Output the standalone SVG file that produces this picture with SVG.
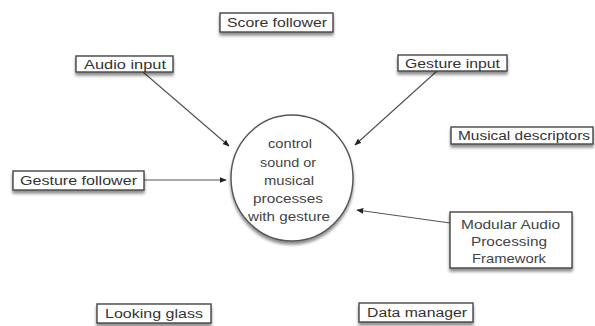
<svg xmlns="http://www.w3.org/2000/svg" width="595" height="326" viewBox="0 0 595 326">
<defs>
<filter id="sh" x="-20%" y="-40%" width="140%" height="190%">
<feGaussianBlur in="SourceAlpha" stdDeviation="1.5"/>
<feOffset dx="0" dy="3" result="b"/>
<feComponentTransfer><feFuncA type="linear" slope="0.45"/></feComponentTransfer>
<feMerge><feMergeNode/><feMergeNode in="SourceGraphic"/></feMerge>
</filter>
<marker id="ah" viewBox="0 0 10 10" refX="9" refY="5" markerWidth="7" markerHeight="7" orient="auto" markerUnits="userSpaceOnUse">
<path d="M0,1 L10,5 L0,9 Z" fill="#222"/>
</marker>
<style>
.box{fill:#fff;stroke:#444;stroke-width:1.4;filter:url(#sh)}
.t{font-family:"Liberation Sans",Arial,sans-serif;font-size:12.5px;fill:#333;text-anchor:middle}
.c{font-family:"Liberation Sans",Arial,sans-serif;font-size:13.5px;fill:#444;text-anchor:middle}
.e{stroke:#555;stroke-width:1.2;fill:none;marker-end:url(#ah)}
</style>
</defs>
<rect width="595" height="326" fill="#fff"/>
<g id="connectors">
<line class="e" x1="143" y1="72" x2="229" y2="146"/>
<line class="e" x1="437" y1="71" x2="355" y2="145"/>
<line class="e" x1="144" y1="180" x2="226" y2="180"/>
<line class="e" x1="450" y1="223" x2="357" y2="210"/>
</g>
<g id="score-follower"><rect class="box" x="220" y="13" width="113" height="19"/><text class="t" x="277" y="27" textLength="100" lengthAdjust="spacingAndGlyphs">Score follower</text></g>
<g id="audio-input"><rect class="box" x="76" y="56" width="97" height="16"/><text class="t" x="125" y="68.5" textLength="82" lengthAdjust="spacingAndGlyphs">Audio input</text></g>
<g id="gesture-input"><rect class="box" x="398" y="55" width="109" height="16"/><text class="t" x="452.5" y="67.5" textLength="95" lengthAdjust="spacingAndGlyphs">Gesture input</text></g>
<g id="musical-descriptors"><rect class="box" x="451" y="127" width="142" height="17"/><text class="t" x="524" y="140" textLength="132" lengthAdjust="spacingAndGlyphs">Musical descriptors</text></g>
<g id="gesture-follower"><rect class="box" x="13" y="171" width="131" height="19"/><text class="t" x="78.5" y="185" textLength="117" lengthAdjust="spacingAndGlyphs">Gesture follower</text></g>
<g id="center"><ellipse cx="292" cy="178" rx="61" ry="63" fill="#fff" stroke="#555" stroke-width="1.4" filter="url(#sh)"/>
<text class="c" x="290" y="147.5" textLength="44" lengthAdjust="spacingAndGlyphs">control</text>
<text class="c" x="288" y="166.5" textLength="56" lengthAdjust="spacingAndGlyphs">sound or</text>
<text class="c" x="289" y="184.5" textLength="50" lengthAdjust="spacingAndGlyphs">musical</text>
<text class="c" x="288" y="202.5" textLength="70" lengthAdjust="spacingAndGlyphs">processes</text>
<text class="c" x="289" y="221" textLength="82" lengthAdjust="spacingAndGlyphs">with gesture</text></g>
<g id="modular"><rect class="box" x="450" y="212" width="122" height="56"/>
<text class="c" x="510.5" y="229" textLength="99" lengthAdjust="spacingAndGlyphs">Modular Audio</text>
<text class="c" x="509" y="246" textLength="76" lengthAdjust="spacingAndGlyphs">Processing</text>
<text class="c" x="509" y="263" textLength="74" lengthAdjust="spacingAndGlyphs">Framework</text></g>
<g id="looking-glass"><rect class="box" x="97" y="304" width="114" height="19"/><text class="t" x="154" y="318" textLength="98" lengthAdjust="spacingAndGlyphs">Looking glass</text></g>
<g id="data-manager"><rect class="box" x="359" y="303" width="114" height="19"/><text class="t" x="417" y="317" textLength="100" lengthAdjust="spacingAndGlyphs">Data manager</text></g>
</svg>
